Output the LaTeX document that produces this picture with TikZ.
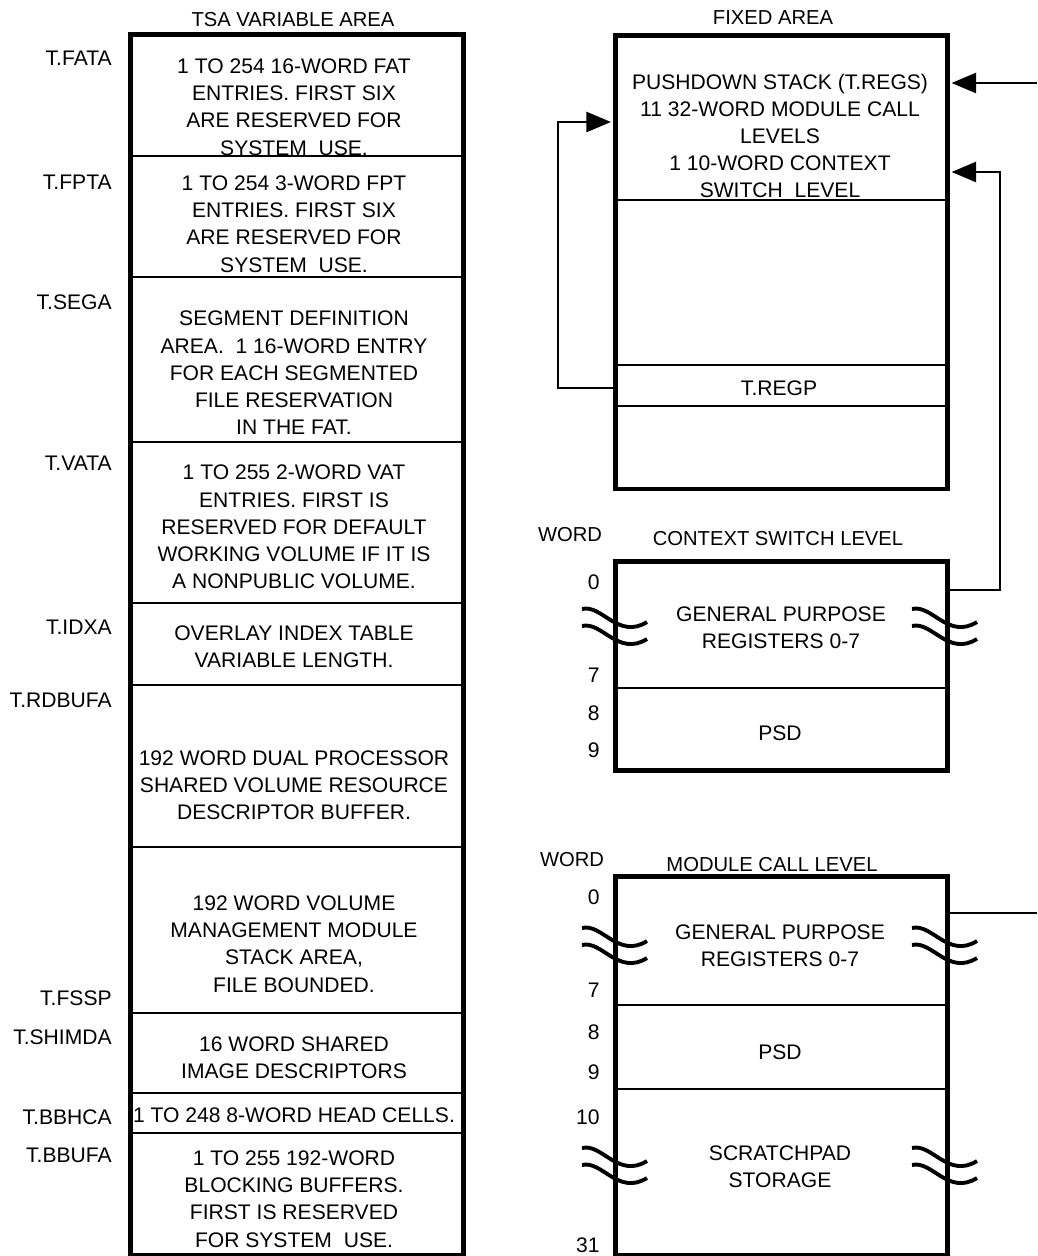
\documentclass[tikz,border=0pt]{standalone}
\usepackage{fontspec}
\setmainfont{Liberation Sans}
\usetikzlibrary{arrows.meta}

\tikzset{
    area/.style={draw, line width=2.6pt, inner sep=0pt, anchor=north west},
    rule/.style={line width=1.3pt},
    cell/.style={align=center, inner sep=0pt, font=\fontsize{12}{15.5}\selectfont},
    tag/.style={anchor=east, inner sep=0pt, font=\fontsize{12}{14}\selectfont},
    head/.style={inner sep=0pt, font=\fontsize{11.5}{14}\selectfont},
    flow/.style={line width=1.3pt, -{Triangle[length=14pt,width=11.5pt]}, shorten >=1.2pt},
    wire/.style={line width=0.8pt},
    gap/.pic={
        \draw[line width=2.2pt] (-32,-7) .. controls (-12,-12) and (4,24) .. (33,6);
        \draw[line width=2.2pt] (-32,10) .. controls (-12,5) and (4,41) .. (33,23);
    }
}

\begin{document}
\begin{tikzpicture}[x=0.02cm, y=-0.02cm]
            \useasboundingbox (0,0) rectangle (1037,1256);
            \node[head] (tsatitle) at (293,20) {TSA VARIABLE AREA};
            \node[area, minimum width=6.66cm, minimum height=24.42cm] (tsa) at (128,32) {};
            \draw[rule] (128,156) -- (461,156) (128,277) -- (461,277) (128,442) -- (461,442)
                (128,603) -- (461,603) (128,685) -- (461,685) (128,847) -- (461,847)
                (128,1013) -- (461,1013) (128,1093) -- (461,1093) (128,1133) -- (461,1133);
            \node[cell] (fat) at (294,107) {1 TO 254 16-WORD FAT\\ENTRIES. FIRST SIX\\ARE RESERVED FOR\\SYSTEM~ USE.};
            \node[cell] (fpt) at (294,224) {1 TO 254 3-WORD FPT\\ENTRIES. FIRST SIX\\ARE RESERVED FOR\\SYSTEM~ USE.};
            \node[cell] (seg) at (294,373) {SEGMENT DEFINITION\\AREA.~ 1 16-WORD ENTRY\\FOR EACH SEGMENTED\\FILE RESERVATION\\IN THE FAT.};
            \node[cell] (vat) at (294,527) {1 TO 255 2-WORD VAT\\ENTRIES. FIRST IS\\RESERVED FOR DEFAULT\\WORKING VOLUME IF IT IS\\A NONPUBLIC VOLUME.};
            \node[cell] (idx) at (294,647) {OVERLAY INDEX TABLE\\VARIABLE LENGTH.};
            \node[cell] (rdbuf) at (294,785) {192 WORD DUAL PROCESSOR\\SHARED VOLUME RESOURCE\\DESCRIPTOR BUFFER.};
            \node[cell] (vmm) at (294,944) {192 WORD VOLUME\\MANAGEMENT MODULE\\STACK AREA,\\FILE BOUNDED.};
            \node[cell] (shim) at (294,1058) {16 WORD SHARED\\IMAGE DESCRIPTORS};
            \node[cell] (bbhc) at (294,1115) {1 TO 248 8-WORD HEAD CELLS.};
            \node[cell] (bbuf) at (294,1199) {1 TO 255 192-WORD\\BLOCKING BUFFERS.\\FIRST IS RESERVED\\FOR SYSTEM~ USE.};
            \node[tag] (tfata) at (112,58) {T.FATA};
            \node[tag] (tfpta) at (112,182) {T.FPTA};
            \node[tag] (tsega) at (112,302) {T.SEGA};
            \node[tag] (tvata) at (112,463) {T.VATA};
            \node[tag] (tidxa) at (112,627) {T.IDXA};
            \node[tag] (trdbufa) at (112,700) {T.RDBUFA};
            \node[tag] (tfssp) at (112,998) {T.FSSP};
            \node[tag] (tshimda) at (112,1037) {T.SHIMDA};
            \node[tag] (tbbhca) at (112,1117) {T.BBHCA};
            \node[tag] (tbbufa) at (112,1155) {T.BBUFA};

            \node[head] (fixtitle) at (773,18) {FIXED AREA};
            \node[area, minimum width=6.64cm, minimum height=9.08cm] (fixed) at (613,33) {};
            \draw[rule] (613,200) -- (945,200) (613,365) -- (945,365) (613,406) -- (945,406);
            \node[cell] (stack) at (780,136) {PUSHDOWN STACK (T.REGS)\\11 32-WORD MODULE CALL\\LEVELS\\1 10-WORD CONTEXT\\SWITCH~ LEVEL};
            \node[cell] (regp) at (779,388) {T.REGP};

            \node[head] (ctxtitle) at (778,539) {CONTEXT SWITCH LEVEL};
            \node[head] (ctxword) at (570,535) {WORD};
            \node[area, minimum width=6.64cm, minimum height=4.18cm] (ctx) at (613,559) {};
            \draw[rule] (613,688) -- (945,688);
            \node[cell] (ctxgpr) at (781,628) {GENERAL PURPOSE\\REGISTERS 0-7};
            \node[cell] (ctxpsd) at (780,733) {PSD};
            \node[tag] (cw0) at (600,582) {0};
            \node[tag] (cw7) at (600,675) {7};
            \node[tag] (cw8) at (600,713) {8};
            \node[tag] (cw9) at (600,750) {9};
            \pic at (614,616) {gap};
            \pic at (944,616) {gap};

            \node[head] (modtitle) at (772,865) {MODULE CALL LEVEL};
            \node[head] (modword) at (572,860) {WORD};
            \node[area, minimum width=6.64cm, minimum height=7.58cm] (mod) at (613,874) {};
            \draw[rule] (613,1005) -- (945,1005) (613,1089) -- (945,1089);
            \node[cell] (modgpr) at (780,946) {GENERAL PURPOSE\\REGISTERS 0-7};
            \node[cell] (modpsd) at (780,1052) {PSD};
            \node[cell] (scratch) at (780,1167) {SCRATCHPAD\\STORAGE};
            \node[tag] (mw0) at (600,897) {0};
            \node[tag] (mw7) at (600,990) {7};
            \node[tag] (mw8) at (600,1032) {8};
            \node[tag] (mw9) at (600,1072) {9};
            \node[tag] (mw10) at (600,1117) {10};
            \node[tag] (mw31) at (600,1245) {31};
            \pic at (614,935) {gap};
            \pic at (944,935) {gap};
            \pic at (614,1155) {gap};
            \pic at (944,1155) {gap};

            \coordinate (intop) at (1037,83);
            \coordinate (outmod) at (1037,913);
            \draw[flow] (intop) -- (intop -| fixed.east);
            \draw[flow] (ctx.east |- 0,590) -| (1000,172) -- (fixed.east |- 0,172);
            \draw[flow] (fixed.west |- regp) -| (558,122) -- (fixed.west |- 0,122);
            \draw[wire] (mod.east |- outmod) -- (outmod);
        \end{tikzpicture}
\end{document}
